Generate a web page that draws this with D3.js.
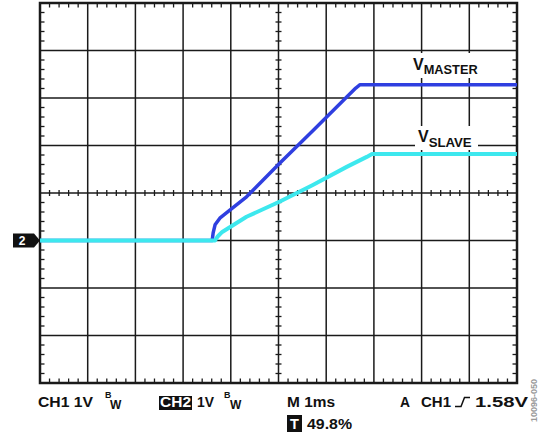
<!DOCTYPE html>
<html>
<head>
<meta charset="utf-8">
<script src="https://cdn.jsdelivr.net/npm/d3@7/dist/d3.min.js"></script>
<style>
  html, body { margin: 0; padding: 0; background: #fff; }
  svg { display: block; }
  text { font-family: "Liberation Sans", Arial, Helvetica, sans-serif; font-weight: bold; }
</style>
</head>
<body>
<svg id="chart" width="540" height="433"></svg>
<script>
// ---- data (time in ms, relative to trigger; voltage in V, CH2 ground reference) ----
const masterTime = [-5, -1.39, -1.37, -1.33, -1.23, -1.02, -0.67, 0.03, 0.73, 1.43, 1.62, 1.71, 5];
const masterVolt = [0, 0, 0.16, 0.33, 0.47, 0.64, 0.92, 1.63, 2.32, 3.02, 3.21, 3.28, 3.28];
const slaveTime  = [-5, -1.33, -1.27, -1.18, -0.67, 0.03, 0.72, 1.43, 1.85, 1.96, 5];
const slaveVolt  = [0, 0, 0.09, 0.18, 0.50, 0.82, 1.17, 1.55, 1.76, 1.82, 1.82];
const seriesNames = ["MASTER", "SLAVE"];
const xDivisions = [-5, -4, -3, -2, -1, 0, 1, 2, 3, 4, 5];
const yDivisions = [-3, -2, -1, 0, 1, 2, 3, 4, 5];
const footerLeft = ["CH1 1V", "CH2", "1V"];
const footerTime = "M 1ms";
const footerTrig = ["A", "CH1", "1.58V"];
const footerPos = "49.8%";
const figureId = "10096-050";

const svg = d3.select("#chart");
const L = 40, R = 517, T = 3, B = 383;
const x = d3.scaleLinear().domain([-5, 5]).range([L, R]);
const y = d3.scaleLinear().domain([-3, 5]).range([B, T]);

const grid = svg.append("g");
grid.selectAll(".vg").data(xDivisions.slice(1, -1)).join("line")
  .attr("x1", d => x(d)).attr("x2", d => x(d)).attr("y1", T).attr("y2", B)
  .attr("stroke", "#1a1a1a").attr("stroke-width", 1.5);
grid.selectAll(".hg").data(yDivisions.slice(1, -1)).join("line")
  .attr("y1", d => y(d)).attr("y2", d => y(d)).attr("x1", L).attr("x2", R)
  .attr("stroke", "#1a1a1a").attr("stroke-width", 1.5);

// minor ticks
const xMinor = d3.range(-5, 5.001, 0.2).filter(v => Math.abs(v - Math.round(v)) > 1e-6);
const yMinor = d3.range(-3, 5.001, 0.2).filter(v => Math.abs(v - Math.round(v)) > 1e-6);
const tk = grid.append("g").attr("stroke", "#1a1a1a").attr("stroke-width", 1.3);
xMinor.forEach(v => {
  tk.append("line").attr("x1", x(v)).attr("x2", x(v)).attr("y1", y(1) - 3).attr("y2", y(1) + 3);
  tk.append("line").attr("x1", x(v)).attr("x2", x(v)).attr("y1", T).attr("y2", T + 4.5);
  tk.append("line").attr("x1", x(v)).attr("x2", x(v)).attr("y1", B - 4.5).attr("y2", B);
});
yMinor.forEach(v => {
  tk.append("line").attr("y1", y(v)).attr("y2", y(v)).attr("x1", x(0) - 3).attr("x2", x(0) + 3);
  tk.append("line").attr("y1", y(v)).attr("y2", y(v)).attr("x1", L).attr("x2", L + 4.5);
  tk.append("line").attr("y1", y(v)).attr("y2", y(v)).attr("x1", R - 4.5).attr("x2", R);
});

// label backgrounds (cover grid)
svg.append("rect").attr("x", 409).attr("y", 53).attr("width", 72).attr("height", 25).attr("fill", "#fff");
svg.append("rect").attr("x", 415).attr("y", 126).attr("width", 63).attr("height", 24).attr("fill", "#fff");

// frame
svg.append("rect").attr("x", L).attr("y", T).attr("width", R - L).attr("height", B - T)
  .attr("fill", "none").attr("stroke", "#1a1a1a").attr("stroke-width", 2.5);

// traces
const line = d3.line().x(d => x(d[0])).y(d => y(d[1]));
const masterData = d3.zip(masterTime, masterVolt);
const slaveData = d3.zip(slaveTime, slaveVolt);
svg.append("path").datum(masterData).attr("d", line)
  .attr("fill", "none").attr("stroke", "#2f3fe0").attr("stroke-width", 3.5).attr("stroke-linejoin", "round");
svg.append("path").datum(slaveData).attr("d", line)
  .attr("fill", "none").attr("stroke", "#3de8ee").attr("stroke-width", 4).attr("stroke-linejoin", "round");

// series labels
function vLabel(xp, yp, sub, subDy, subLen) {
  const t = svg.append("text").attr("x", xp).attr("y", yp).attr("font-size", 16).attr("fill", "#111");
  t.append("tspan").text("V");
  t.append("tspan").attr("font-size", 12).attr("dy", subDy)
    .attr("textLength", subLen).attr("lengthAdjust", "spacingAndGlyphs").text(sub);
}
vLabel(413, 69.5, seriesNames[0], 4, 54);
vLabel(418, 142, seriesNames[1], 4.5, 43);

// ground marker "2"
svg.append("path")
  .attr("d", `M13,${y(0) - 7} L34,${y(0) - 7} L40,${y(0)} L34,${y(0) + 7} L13,${y(0) + 7} Z`)
  .attr("fill", "#111");
svg.append("text").attr("x", 22).attr("y", y(0) + 4.5).attr("font-size", 12)
  .attr("fill", "#fff").attr("text-anchor", "middle").text("2");

// footer
const fy = 407;
function ftext(xp, yp, str, len, size, fill) {
  return svg.append("text").attr("x", xp).attr("y", yp).attr("font-size", size || 14.5)
    .attr("fill", fill || "#111").attr("textLength", len).attr("lengthAdjust", "spacingAndGlyphs").text(str);
}
ftext(38, fy, footerLeft[0], 55);
svg.append("text").attr("x", 105).attr("y", 398).attr("font-size", 9).attr("fill", "#111").text("B");
svg.append("text").attr("x", 110).attr("y", 409).attr("font-size", 12).attr("fill", "#111").text("W");
svg.append("rect").attr("x", 159).attr("y", 396).attr("width", 33).attr("height", 14).attr("fill", "#111");
ftext(160, fy, footerLeft[1], 31, 14.5, "#fff");
ftext(197, fy, footerLeft[2], 17);
svg.append("text").attr("x", 224).attr("y", 398).attr("font-size", 9).attr("fill", "#111").text("B");
svg.append("text").attr("x", 230).attr("y", 409).attr("font-size", 12).attr("fill", "#111").text("W");
ftext(287, fy, footerTime, 48);
svg.append("rect").attr("x", 287).attr("y", 415).attr("width", 15).attr("height", 17).attr("fill", "#111");
svg.append("text").attr("x", 294.5).attr("y", 429).attr("font-size", 14.5).attr("fill", "#fff")
  .attr("text-anchor", "middle").text("T");
ftext(307, 429, footerPos, 45);
ftext(400, fy, footerTrig[0], 10);
ftext(421, fy, footerTrig[1], 30);
svg.append("path").attr("d", "M455,406.5 L461,406.5 L464.5,397.5 L470,397.5")
  .attr("fill", "none").attr("stroke", "#111").attr("stroke-width", 1.5);
ftext(475, fy, footerTrig[2], 53);

// figure id
svg.append("text").attr("transform", "translate(537,379) rotate(-90)")
  .attr("text-anchor", "end").attr("font-size", 9).attr("font-weight", "normal")
  .attr("fill", "#999").text(figureId);
</script>
</body>
</html>
